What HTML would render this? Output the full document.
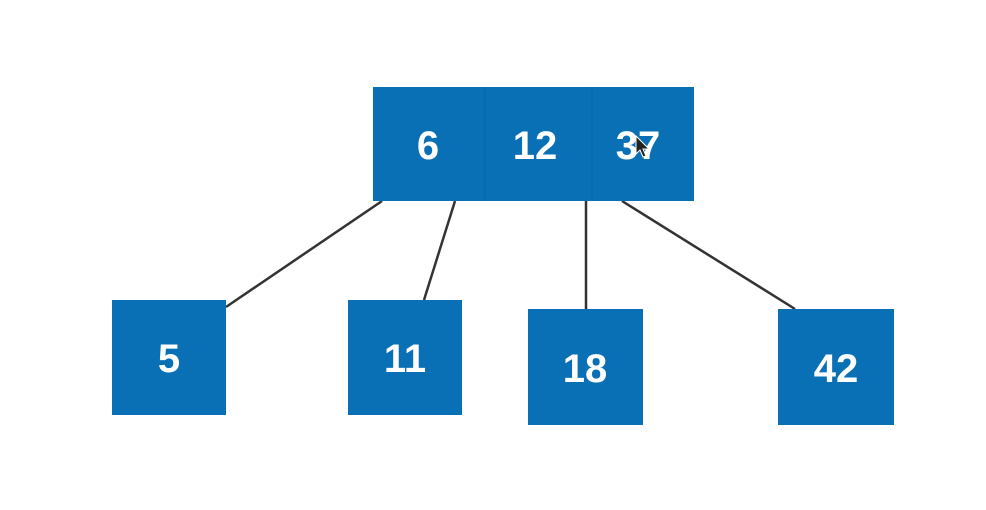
<!DOCTYPE html>
<html><head><meta charset="utf-8"><style>
html,body{margin:0;padding:0;background:#fff;width:986px;height:510px;overflow:hidden}
svg text{font-family:"Liberation Sans",sans-serif;font-weight:bold;font-size:40px;fill:#fff;text-anchor:middle;dominant-baseline:central}
</style></head><body>
<svg width="986" height="510">
<g stroke="#333" stroke-width="2.5">
<line x1="382" y1="201" x2="226" y2="307"/>
<line x1="455" y1="201" x2="424" y2="300"/>
<line x1="586" y1="201" x2="586" y2="309"/>
<line x1="622" y1="201" x2="795" y2="309"/>
</g>
<g>
<rect x="373" y="87" width="321" height="114" fill="#0a70b5"/>
<line x1="485" y1="87" x2="485" y2="201" stroke="#0863a3" stroke-width="1"/>
<line x1="592" y1="87" x2="592" y2="201" stroke="#0863a3" stroke-width="1"/>
<text x="428" y="146">6</text>
<text x="535" y="146">12</text>
<text x="638" y="146">37</text>
<path d="M636 136 l0 18 l4 -4 l3 7 l3 -1 l-3 -7 l6 0 z" fill="#222" stroke="#fff" stroke-width="1"/>
</g>
<g><rect x="112" y="300" width="114" height="115" fill="#0a70b5"/><text x="169" y="359">5</text></g>
<g><rect x="348" y="300" width="114" height="115" fill="#0a70b5"/><text x="405" y="359">11</text></g>
<g><rect x="528" y="309" width="115" height="116" fill="#0a70b5"/><text x="585" y="369">18</text></g>
<g><rect x="778" y="309" width="116" height="116" fill="#0a70b5"/><text x="836" y="369">42</text></g>
</svg>
</body></html>
